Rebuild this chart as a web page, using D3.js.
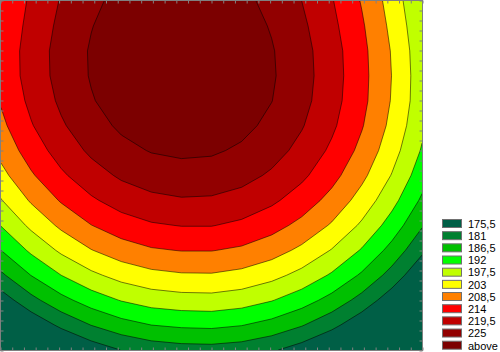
<!DOCTYPE html>
<html>
<head>
<meta charset="utf-8">
<script src="https://cdn.jsdelivr.net/npm/d3@7"></script>
<style>
html,body{margin:0;padding:0;background:#fff;}
svg{display:block;}
</style>
</head>
<body>
<svg id="chart" width="500" height="352"></svg>
<script>
// Contour levels (upper bound of each legend band) and legend labels
const thresholds = [175.5, 181, 186.5, 192, 197.5, 203, 208.5, 214, 219.5, 225];
const legendLabels = ["175,5", "181", "186,5", "192", "197,5", "203", "208,5", "214", "219,5", "225", "above"];
const bandColors = ["#005f46", "#008030", "#00c000", "#00ff00", "#c0ff00", "#ffff00", "#ff8000", "#ff0000", "#c00000", "#920000", "#7c0000"];

// Surface values, 15 columns (left→right) x 15 rows (top→bottom)
const zRow00 = [208.7, 214.9, 219.9, 223.8, 226.6, 228.2, 228.7, 228.1, 226.4, 223.5, 219.5, 214.4, 208.1, 200.7, 192.1];
const zRow01 = [209.5, 215.7, 220.8, 224.8, 227.6, 229.2, 229.7, 229.2, 227.4, 224.6, 220.6, 215.4, 209.2, 201.7, 193.2];
const zRow02 = [210.1, 216.4, 221.5, 225.5, 228.3, 230.0, 230.6, 230.0, 228.3, 225.4, 221.4, 216.3, 210.0, 202.6, 194.0];
const zRow03 = [210.0, 216.3, 221.4, 225.4, 228.3, 230.0, 230.6, 230.1, 228.4, 225.6, 221.6, 216.5, 210.2, 202.9, 194.3];
const zRow04 = [209.0, 215.3, 220.5, 224.6, 227.5, 229.3, 229.9, 229.4, 227.8, 225.1, 221.2, 216.1, 210.0, 202.6, 194.2];
const zRow05 = [207.2, 213.6, 218.8, 222.9, 225.9, 227.7, 228.3, 227.9, 226.4, 223.7, 219.9, 215.0, 208.9, 201.6, 193.2];
const zRow06 = [204.7, 211.1, 216.3, 220.5, 223.5, 225.3, 226.0, 225.7, 224.2, 221.6, 217.9, 213.0, 207.0, 199.8, 191.5];
const zRow07 = [201.3, 207.8, 213.1, 217.2, 220.3, 222.1, 222.9, 222.6, 221.3, 218.7, 215.1, 210.3, 204.3, 197.2, 189.0];
const zRow08 = [197.2, 203.6, 209.0, 213.2, 216.3, 218.2, 219.0, 218.8, 217.5, 215.0, 211.4, 206.7, 200.8, 193.8, 185.6];
const zRow09 = [192.2, 198.7, 204.1, 208.4, 211.5, 213.4, 214.2, 214.2, 212.9, 210.5, 207.0, 202.4, 196.6, 189.6, 181.5];
const zRow10 = [186.5, 193.0, 198.5, 202.8, 205.9, 207.9, 208.7, 208.7, 207.6, 205.3, 201.8, 197.2, 191.5, 184.6, 176.6];
const zRow11 = [180.0, 186.6, 192.0, 196.3, 199.5, 201.5, 202.4, 202.5, 201.4, 199.2, 195.8, 191.3, 185.7, 178.9, 170.9];
const zRow12 = [172.6, 179.3, 184.8, 189.1, 192.3, 194.4, 195.3, 195.5, 194.5, 192.3, 189.0, 184.6, 179.0, 172.3, 164.4];
const zRow13 = [164.5, 171.2, 176.7, 181.1, 184.4, 186.5, 187.4, 187.7, 186.7, 184.6, 181.4, 177.1, 171.6, 164.9, 157.1];
const zRow14 = [155.6, 162.3, 167.9, 172.3, 175.6, 177.8, 178.8, 179.0, 178.2, 176.2, 173.0, 168.8, 163.3, 156.8, 149.0];
const zRows = [zRow00, zRow01, zRow02, zRow03, zRow04, zRow05, zRow06, zRow07, zRow08, zRow09, zRow10, zRow11, zRow12, zRow13, zRow14];

// Minor tick counts along the frame (no labels)
const xTickCount = 36;
const yTickCount = 35;

const svg = d3.select("#chart");
const plot = {left: 1, top: 1, right: 422, bottom: 350};

const nx = zRows[0].length, ny = zRows.length;
const values = zRows.flat();

const x = d3.scaleLinear().domain([0.5, nx - 0.5]).range([plot.left, plot.right]);
const y = d3.scaleLinear().domain([0.5, ny - 0.5]).range([plot.top, plot.bottom]);

const path = d3.geoPath(d3.geoTransform({
  point(px, py) { this.stream.point(x(px), y(py)); }
}));

const contours = d3.contours().size([nx, ny]).thresholds(thresholds)(values);

svg.append("defs").append("clipPath").attr("id", "plotclip")
  .append("rect").attr("x", 0).attr("y", 0).attr("width", 423).attr("height", 351);

const g = svg.append("g").attr("clip-path", "url(#plotclip)");

g.append("rect")
  .attr("x", 0).attr("y", 0).attr("width", 423).attr("height", 351)
  .attr("fill", bandColors[0]);

g.selectAll("path.band")
  .data(contours)
  .join("path")
  .attr("class", "band")
  .attr("d", path)
  .attr("fill", (d, i) => bandColors[i + 1])
  .attr("stroke", "#000")
  .attr("stroke-opacity", 0.75)
  .attr("stroke-width", 0.7)
  .attr("stroke-linejoin", "round");

// Frame with inward minor ticks
const xt = d3.scaleLinear().domain([0, xTickCount]).range([0.5, 422.5]);
const yt = d3.scaleLinear().domain([0, yTickCount]).range([0.5, 350.5]);
const tickStyle = sel => {
  sel.select(".domain").remove();
  sel.selectAll(".tick line").attr("stroke", "#808080");
  sel.selectAll(".tick text").remove();
};
svg.append("g").attr("transform", "translate(0,350.5)")
  .call(d3.axisTop(xt).ticks(xTickCount).tickSize(3).tickFormat("")).call(tickStyle);
svg.append("g").attr("transform", "translate(0,0.5)")
  .call(d3.axisBottom(xt).ticks(xTickCount).tickSize(3).tickFormat("")).call(tickStyle);
svg.append("g").attr("transform", "translate(0.5,0)")
  .call(d3.axisRight(yt).ticks(yTickCount).tickSize(3).tickFormat("")).call(tickStyle);
svg.append("g").attr("transform", "translate(422.5,0)")
  .call(d3.axisLeft(yt).ticks(yTickCount).tickSize(3).tickFormat("")).call(tickStyle);

svg.append("rect")
  .attr("x", 0.5).attr("y", 0.5).attr("width", 422).attr("height", 350)
  .attr("fill", "none").attr("stroke", "#808080").attr("stroke-width", 1);

// Legend
const legendY = d3.scaleLinear().domain([0, legendLabels.length - 1]).range([219.5, 341.2]);
const leg = svg.append("g");
const items = leg.selectAll("g.item")
  .data(legendLabels)
  .join("g")
  .attr("class", "item")
  .attr("transform", (d, i) => `translate(0,${legendY(i)})`);
items.append("rect")
  .attr("x", 442.5).attr("y", 0).attr("width", 19).attr("height", 8)
  .attr("fill", (d, i) => bandColors[i])
  .attr("stroke", "#707070").attr("stroke-width", 1);
items.append("text")
  .attr("x", 468).attr("y", 8.3)
  .attr("font-family", "'Liberation Sans', Arial, sans-serif")
  .attr("font-size", "11px")
  .attr("fill", "#000")
  .text(d => d);
</script>
</body>
</html>
